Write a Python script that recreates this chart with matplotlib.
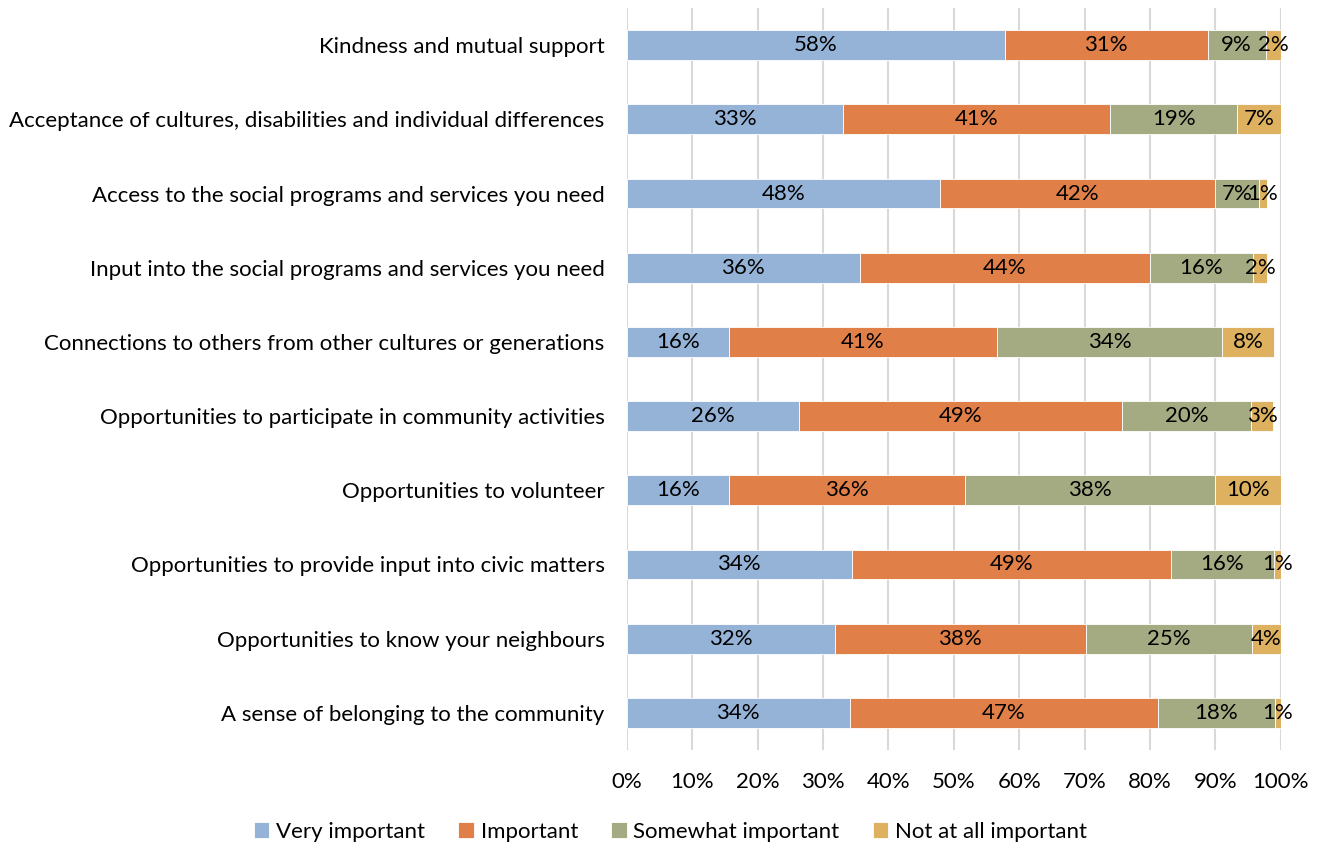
import matplotlib

matplotlib.use("Agg")
import matplotlib.pyplot as plt
from matplotlib.ticker import MultipleLocator, PercentFormatter

plt.rcParams["font.family"] = ["Lato", "DejaVu Sans"]

# Community aspects, top to bottom as shown
aspects = [
    "Kindness and mutual support",
    "Acceptance of cultures, disabilities and individual differences",
    "Access to the social programs and services you need",
    "Input into the social programs and services you need",
    "Connections to others from other cultures or generations",
    "Opportunities to participate in community activities",
    "Opportunities to volunteer",
    "Opportunities to provide input into civic matters",
    "Opportunities to know your neighbours",
    "A sense of belonging to the community",
]

# Share of respondents (%) per rating
very_important = [57.8, 33.0, 47.9, 35.6, 15.6, 26.3, 15.7, 34.4, 31.8, 34.1]
important = [31.0, 40.9, 42.0, 44.4, 41.0, 49.4, 36.0, 48.8, 38.4, 47.1]
somewhat_important = [8.9, 19.4, 6.7, 15.7, 34.4, 19.7, 38.2, 15.7, 25.4, 17.9]
not_important = [2.3, 6.7, 1.3, 2.2, 7.9, 3.4, 10.1, 1.1, 4.4, 0.9]

series = [
    ("Very important", very_important, "#95b3d7"),
    ("Important", important, "#e07f48"),
    ("Somewhat important", somewhat_important, "#a4ab82"),
    ("Not at all important", not_important, "#ddb15f"),
]

fig = plt.figure(figsize=(13.25, 8.46), dpi=100)
ax = fig.add_axes([0.473, 0.1135, 0.4937, 0.877])

ypos = list(range(len(aspects)))
left = [0.0] * len(aspects)
for name, vals, color in series:
    bars = ax.barh(ypos, vals, left=left, height=0.4, color=color,
                   edgecolor="white", linewidth=0.6, label=name, zorder=3)
    for b, v in zip(bars, vals):
        ax.text(b.get_x() + b.get_width() / 2, b.get_y() + b.get_height() / 2,
                f"{v:.0f}%", ha="center", va="center", fontsize=16,
                color="black", zorder=4)
    left = [l + v for l, v in zip(left, vals)]

ax.set_xlim(0, 100)
ax.set_ylim(len(aspects) - 0.5, -0.5)
ax.set_yticks(ypos)
ax.set_yticklabels(aspects, fontsize=16)
ax.xaxis.set_major_locator(MultipleLocator(10))
ax.xaxis.set_major_formatter(PercentFormatter(decimals=0))
ax.tick_params(axis="x", labelsize=16, length=0, pad=16)
ax.tick_params(axis="y", length=0, pad=16)
ax.grid(axis="x", color="#d9d9d9", linewidth=1.5, zorder=0)
for s in ax.spines.values():
    s.set_visible(False)

fig.legend(loc="center", bbox_to_anchor=(0.506, 0.017), ncol=4, frameon=False,
           fontsize=16, handlelength=0.7, handleheight=0.7, handletextpad=0.3,
           columnspacing=1.5)

fig.savefig("out.png", dpi=100)
plt.close(fig)
